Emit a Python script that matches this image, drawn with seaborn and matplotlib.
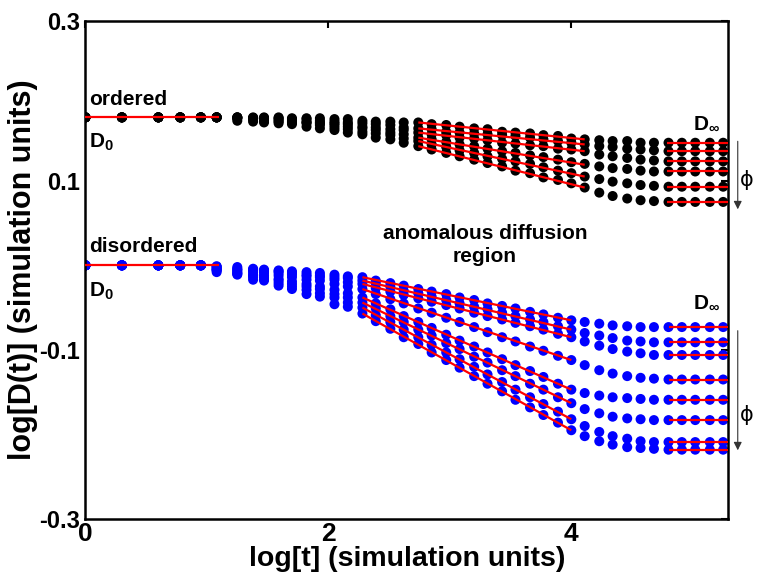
import numpy as np
import pandas as pd
import matplotlib
matplotlib.use('Agg')
import matplotlib.pyplot as plt
import seaborn as sns

# ---------------------------------------------
# data (log units)
# ---------------------------------------------

# sampled times, log[t]
t_early = [0, 0.30, 0.60, 0.78, 0.95]
t_late = [1.08, 1.25, 1.38, 1.47, 1.59, 1.70, 1.82, 1.93, 2.05, 2.16, 2.28,
          2.39, 2.51, 2.62, 2.74, 2.85, 2.97, 3.08, 3.20, 3.31, 3.43, 3.54,
          3.66, 3.77, 3.89, 4.00, 4.11, 4.23, 4.34, 4.46, 4.57, 4.68, 4.80,
          4.91, 5.02, 5.14, 5.25]

d0_ordered = 0.175
d0_disordered = 0.0

# ordered system, one list per obstacle fraction phi
ord_1 = [0.175, 0.175, 0.175, 0.175, 0.175, 0.174, 0.174, 0.174, 0.173, 0.173, 0.171, 0.170, 0.170, 0.169, 0.169,
         0.167, 0.166, 0.164, 0.162, 0.161, 0.158, 0.157, 0.156, 0.154, 0.153, 0.150, 0.149, 0.148, 0.147, 0.147,
         0.145, 0.145, 0.145, 0.145, 0.145, 0.145, 0.145]
ord_2 = [0.175, 0.175, 0.174, 0.174, 0.174, 0.173, 0.173, 0.171, 0.170, 0.169, 0.168, 0.167, 0.166, 0.163, 0.162,
         0.161, 0.158, 0.157, 0.156, 0.155, 0.154, 0.153, 0.151, 0.149, 0.147, 0.145, 0.143, 0.141, 0.140, 0.138,
         0.137, 0.136, 0.135, 0.135, 0.135, 0.135, 0.135]
ord_3 = [0.175, 0.175, 0.174, 0.174, 0.173, 0.171, 0.170, 0.169, 0.168, 0.167, 0.164, 0.163, 0.161, 0.160, 0.157,
         0.155, 0.154, 0.151, 0.150, 0.148, 0.145, 0.144, 0.142, 0.141, 0.138, 0.137, 0.135, 0.131, 0.129, 0.127,
         0.125, 0.124, 0.123, 0.123, 0.123, 0.123, 0.123]
ord_4 = [0.175, 0.174, 0.174, 0.173, 0.171, 0.170, 0.169, 0.168, 0.166, 0.164, 0.162, 0.160, 0.157, 0.155, 0.151,
         0.149, 0.146, 0.143, 0.141, 0.138, 0.135, 0.133, 0.130, 0.128, 0.125, 0.122, 0.120, 0.117, 0.115, 0.114,
         0.112, 0.111, 0.111, 0.111, 0.111, 0.111, 0.111]
ord_5 = [0.175, 0.174, 0.173, 0.171, 0.170, 0.169, 0.168, 0.166, 0.163, 0.161, 0.158, 0.156, 0.154, 0.150, 0.147,
         0.143, 0.140, 0.136, 0.133, 0.129, 0.126, 0.123, 0.120, 0.116, 0.112, 0.109, 0.105, 0.102, 0.099, 0.097,
         0.095, 0.094, 0.093, 0.093, 0.093, 0.093, 0.093]
ord_6 = [0.175, 0.171, 0.170, 0.169, 0.168, 0.167, 0.164, 0.162, 0.160, 0.157, 0.155, 0.151, 0.149, 0.145, 0.141,
         0.137, 0.133, 0.129, 0.125, 0.121, 0.117, 0.112, 0.109, 0.104, 0.101, 0.097, 0.092, 0.086, 0.082, 0.079,
         0.077, 0.076, 0.075, 0.075, 0.075, 0.075, 0.075]

# disordered system
dis_1 = [-0.001, -0.002, -0.004, -0.005, -0.006, -0.007, -0.008, -0.009, -0.011, -0.013, -0.014, -0.018, -0.021,
         -0.024, -0.028, -0.031, -0.034, -0.038, -0.041, -0.045, -0.048, -0.051, -0.055, -0.058, -0.062, -0.065,
         -0.067, -0.069, -0.071, -0.072, -0.073, -0.073, -0.073, -0.073, -0.073, -0.073, -0.073]
dis_2 = [-0.002, -0.004, -0.005, -0.006, -0.007, -0.009, -0.011, -0.012, -0.014, -0.015, -0.018, -0.021, -0.025,
         -0.030, -0.033, -0.037, -0.041, -0.045, -0.049, -0.052, -0.056, -0.060, -0.064, -0.067, -0.072, -0.076,
         -0.080, -0.083, -0.086, -0.089, -0.090, -0.091, -0.091, -0.091, -0.091, -0.091, -0.091]
dis_3 = [-0.002, -0.005, -0.006, -0.007, -0.009, -0.011, -0.013, -0.014, -0.017, -0.020, -0.022, -0.027, -0.031,
         -0.035, -0.039, -0.043, -0.047, -0.051, -0.056, -0.060, -0.064, -0.068, -0.072, -0.076, -0.081, -0.085,
         -0.090, -0.095, -0.099, -0.102, -0.104, -0.106, -0.106, -0.106, -0.106, -0.106, -0.106]
dis_4 = [-0.004, -0.006, -0.008, -0.009, -0.012, -0.014, -0.017, -0.018, -0.022, -0.025, -0.028, -0.034, -0.040,
         -0.045, -0.051, -0.056, -0.062, -0.067, -0.073, -0.079, -0.085, -0.090, -0.096, -0.101, -0.107, -0.112,
         -0.118, -0.124, -0.128, -0.131, -0.133, -0.134, -0.135, -0.135, -0.135, -0.135, -0.135]
dis_5 = [-0.005, -0.008, -0.011, -0.012, -0.016, -0.019, -0.022, -0.025, -0.029, -0.033, -0.038, -0.045, -0.052,
         -0.060, -0.067, -0.074, -0.082, -0.089, -0.096, -0.103, -0.111, -0.118, -0.125, -0.132, -0.140, -0.147,
         -0.151, -0.154, -0.156, -0.157, -0.158, -0.159, -0.159, -0.159, -0.159, -0.159, -0.159]
dis_6 = [-0.005, -0.009, -0.012, -0.014, -0.018, -0.022, -0.025, -0.028, -0.034, -0.038, -0.044, -0.051, -0.060,
         -0.067, -0.076, -0.083, -0.092, -0.099, -0.108, -0.115, -0.124, -0.131, -0.140, -0.147, -0.156, -0.163,
         -0.170, -0.175, -0.179, -0.181, -0.182, -0.183, -0.183, -0.183, -0.183, -0.183, -0.183]
dis_7 = [-0.006, -0.010, -0.014, -0.016, -0.021, -0.025, -0.029, -0.033, -0.038, -0.044, -0.050, -0.059, -0.067,
         -0.076, -0.085, -0.094, -0.103, -0.111, -0.120, -0.129, -0.138, -0.147, -0.156, -0.164, -0.173, -0.182,
         -0.190, -0.197, -0.202, -0.205, -0.208, -0.209, -0.209, -0.209, -0.209, -0.209, -0.209]
dis_8 = [-0.008, -0.011, -0.017, -0.018, -0.024, -0.028, -0.034, -0.037, -0.046, -0.049, -0.057, -0.066, -0.075,
         -0.085, -0.093, -0.103, -0.112, -0.121, -0.131, -0.140, -0.149, -0.159, -0.168, -0.177, -0.186, -0.195,
         -0.202, -0.208, -0.212, -0.215, -0.216, -0.217, -0.218, -0.218, -0.218, -0.218, -0.218]

ordered = [ord_1, ord_2, ord_3, ord_4, ord_5, ord_6]
disordered = [dis_1, dis_2, dis_3, dis_4, dis_5, dis_6, dis_7, dis_8]

# red fits: short-time D0, anomalous power law, long-time D_inf
d0_fit_t = [0, 1.10]

ord_anom_t = [2.74, 4.11]
ord_anom_start = [0.169, 0.162, 0.157, 0.151, 0.147, 0.141]
ord_anom_end = [0.149, 0.143, 0.135, 0.119, 0.105, 0.092]
ord_inf_t = [4.79, 5.29]
ord_inf = [0.145, 0.135, 0.123, 0.111, 0.093, 0.075]

dis_anom_t = [2.28, 4.00]
dis_anom_start = [-0.014, -0.018, -0.022, -0.028, -0.038, -0.044, -0.050, -0.057]
dis_anom_end = [-0.065, -0.076, -0.085, -0.112, -0.147, -0.163, -0.182, -0.195]
dis_inf_t = [4.80, 5.29]
dis_inf = [-0.073, -0.091, -0.106, -0.135, -0.159, -0.183, -0.209, -0.218]

# ---------------------------------------------
# long table for seaborn
# ---------------------------------------------
rows = []
for phase, curves, d0 in [('ordered', ordered, d0_ordered), ('disordered', disordered, d0_disordered)]:
    for k, ys in enumerate(curves):
        for t in t_early:
            rows.append((phase, k, t, d0))
        for t, y in zip(t_late, ys):
            rows.append((phase, k, t, y))
df = pd.DataFrame(rows, columns=['phase', 'curve', 'logt', 'logD'])

# ---------------------------------------------
# plot
# ---------------------------------------------
sns.set_style('white')
plt.rcParams['font.family'] = ['Liberation Sans', 'DejaVu Sans']
plt.rcParams['font.weight'] = 'bold'
plt.rcParams['text.color'] = 'black'
plt.rcParams['axes.labelcolor'] = 'black'
plt.rcParams['xtick.color'] = 'black'
plt.rcParams['ytick.color'] = 'black'
plt.rcParams['mathtext.fontset'] = 'custom'
plt.rcParams['mathtext.rm'] = 'Liberation Sans:bold'
plt.rcParams['mathtext.bf'] = 'Liberation Sans:bold'
plt.rcParams['mathtext.it'] = 'Liberation Sans:bold'

fig = plt.figure(figsize=(7.59, 5.86), dpi=100)
ax = fig.add_axes([0.1126, 0.1143, 0.8466, 0.8499])

sns.scatterplot(data=df, x='logt', y='logD', hue='phase',
                palette={'ordered': 'black', 'disordered': '#0000ff'},
                s=52, linewidth=0, legend=False, ax=ax, zorder=2)

red = dict(color='red', lw=1.6, zorder=3, solid_capstyle='butt')
ax.plot(d0_fit_t, [d0_ordered, d0_ordered], **red)
ax.plot(d0_fit_t, [d0_disordered, d0_disordered], **red)
for y0, y1 in zip(ord_anom_start, ord_anom_end):
    ax.plot(ord_anom_t, [y0, y1], **red)
for y in ord_inf:
    ax.plot(ord_inf_t, [y, y], **red)
for y0, y1 in zip(dis_anom_start, dis_anom_end):
    ax.plot(dis_anom_t, [y0, y1], **red)
for y in dis_inf:
    ax.plot(dis_inf_t, [y, y], **red)

ax.set_xlim(0, 5.29)
ax.set_ylim(-0.3, 0.289)
ax.set_xticks([0, 2, 4])
ax.set_yticks([-0.3, -0.1, 0.1, 0.289])
ax.set_yticklabels(['-0.3', '-0.1', '0.1', '0.3'])
ax.tick_params(direction='in', length=5, width=1.5, top=True, right=True,
               labelsize=17, pad=4, colors='black')
ax.tick_params(axis='x', labelsize=19, pad=2)
for sp in ax.spines.values():
    sp.set_linewidth(1.8)
    sp.set_color('black')

ax.set_xlabel('log[t] (simulation units)', fontsize=20.5, fontweight='bold',
              color='black', labelpad=0)
ax.set_ylabel('log[D(t)] (simulation units)', fontsize=22, fontweight='bold',
              color='black', labelpad=1)

# annotations
tk = dict(fontsize=15, fontweight='bold', color='black')
ax.text(0.03, 0.196, 'ordered', ha='left', va='center', **tk)
ax.text(0.03, 0.146, r'$\mathbf{D_0}$', ha='left', va='center', **tk)
ax.text(0.03, 0.022, 'disordered', ha='left', va='center', **tk)
ax.text(0.03, -0.031, r'$\mathbf{D_0}$', ha='left', va='center', **tk)
ax.text(3.29, 0.024, 'anomalous diffusion\nregion', ha='center', va='center',
        linespacing=1.3, **tk)
ax.text(5.0, 0.168, r'$\mathbf{D_\infty}$', ha='left', va='center', **tk)
ax.text(5.0, -0.043, r'$\mathbf{D_\infty}$', ha='left', va='center', **tk)
ax.text(5.44, 0.101, 'ϕ', ha='center', va='center', clip_on=False,
        fontsize=15, fontweight='normal', family='DejaVu Sans', color='black')
ax.text(5.44, -0.177, 'ϕ', ha='center', va='center', clip_on=False,
        fontsize=15, fontweight='normal', family='DejaVu Sans', color='black')

arrow = dict(arrowstyle='-|>', color='#333333', lw=0.8, mutation_scale=12)
ax.annotate('', xy=(5.37, 0.063), xytext=(5.37, 0.150), arrowprops=arrow,
            annotation_clip=False)
ax.annotate('', xy=(5.37, -0.222), xytext=(5.37, -0.074), arrowprops=arrow,
            annotation_clip=False)

fig.savefig('out.png', dpi=100)
